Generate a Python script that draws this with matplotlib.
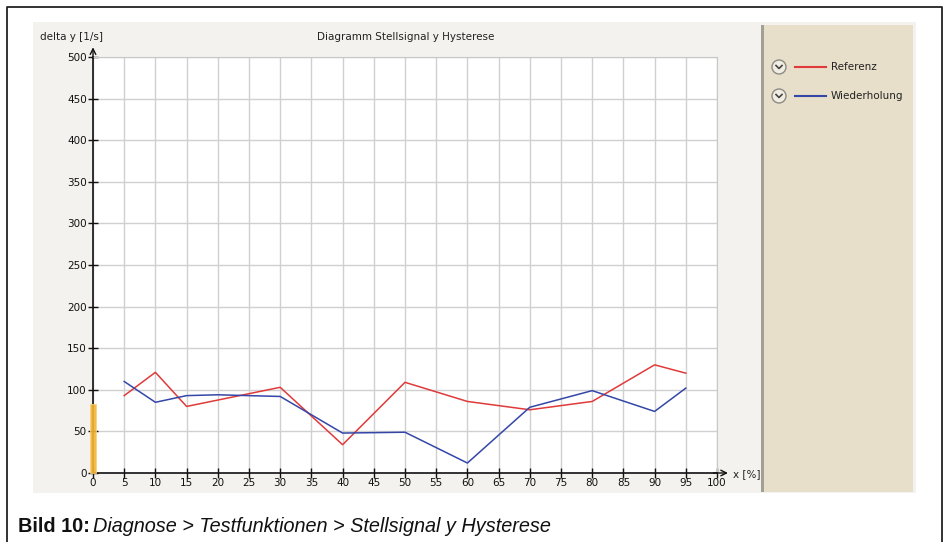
import matplotlib.pyplot as plt
from matplotlib.patches import Rectangle, Circle
from matplotlib.lines import Line2D

# Messwerte Stellsignal y Hysterese
x_ref = [5, 10, 15, 30, 40, 50, 60, 70, 80, 90, 95]
y_ref = [93, 121, 80, 103, 34, 109, 86, 76, 86, 130, 120]
x_wdh = [5, 10, 15, 20, 25, 30, 40, 50, 60, 70, 80, 90, 95]
y_wdh = [110, 85, 93, 94, 93, 92, 48, 49, 12, 79, 99, 74, 102]
bar_x = [0]
bar_y = [83]
series_names = ['Referenz', 'Wiederholung']
series_colors = ['#e03a3a', '#3447a8']

W, H = 944, 542
fig = plt.figure(figsize=(W / 100, H / 100), dpi=100)
fig.patch.set_facecolor('white')


def px(x, y):
    # Pixel (von oben links) -> Figure-Koordinaten
    return x / W, 1 - y / H


def rect(x0, y0, x1, y1, **kw):
    fx, fy = px(x0, y1)
    r = Rectangle((fx, fy), (x1 - x0) / W, (y1 - y0) / H,
                  transform=fig.transFigure, **kw)
    fig.add_artist(r)
    return r


# Rahmen oben/links/rechts
fig.add_artist(Line2D([7 / W, 7 / W, 942 / W, 942 / W],
                      [0, 1 - 7 / H, 1 - 7 / H, 0],
                      transform=fig.transFigure, color='#222222', lw=1.3))

# Hintergrund des Programmfensters
rect(33, 22, 916, 493, facecolor='#f3f2ee', edgecolor='none', zorder=0)
rect(764, 25, 913, 492, facecolor='#e7dfca', edgecolor='none', zorder=0.5)
rect(761, 25, 764, 492, facecolor='#a29f96', edgecolor='none', zorder=0.6)

# Diagramm
l, t = px(93, 57)
r_, b = px(717, 473)
ax = fig.add_axes([l, b, r_ - l, t - b])
ax.set_facecolor('white')
ax.set_xlim(0, 100)
ax.set_ylim(0, 500)
ax.set_xticks(range(0, 101, 5))
ax.set_yticks(range(0, 501, 50))
ax.grid(True, color='#d0d0d0', lw=1)
ax.set_axisbelow(True)
for s in ['top', 'right']:
    ax.spines[s].set_color('#c8c8c8')
for s in ['left', 'bottom']:
    ax.spines[s].set_color('#111111')
    ax.spines[s].set_linewidth(1.2)
ax.tick_params(direction='inout', length=7, width=1, labelsize=7.5,
               colors='#111111', pad=1)
ax.tick_params(axis='x', pad=0)

# Balken bei 0 % liegt über der Achse
ax.bar(bar_x, bar_y, width=0.85, color='#f6b535', edgecolor='#fad27a',
       lw=0.6, alpha=0.9, clip_on=False, zorder=4)
ax.plot(x_ref, y_ref, color=series_colors[0], lw=1.1, zorder=3)
ax.plot(x_wdh, y_wdh, color=series_colors[1], lw=1.1, zorder=3)

# Pfeile an den Achsen
ax.annotate('', xy=(0, 1.03), xytext=(0, 0.99), xycoords='axes fraction',
            arrowprops=dict(arrowstyle='->', color='#111111', lw=1,
                            mutation_scale=10))
ax.annotate('', xy=(1.022, 0), xytext=(0.99, 0), xycoords='axes fraction',
            arrowprops=dict(arrowstyle='->', color='#111111', lw=1,
                            mutation_scale=10))

fig.text(*px(733, 474), 'x [%]', fontsize=7.5, color='#222222',
         va='center', ha='left')
fig.text(*px(40, 37), 'delta y [1/s]', fontsize=7.5, color='#222222',
         va='center', ha='left')
fig.text(*px(406, 37), 'Diagramm Stellsignal y Hysterese', fontsize=7.5,
         color='#222222', va='center', ha='center')

# Legende
for i, (name, col) in enumerate(zip(series_names, series_colors)):
    yy = 67 + i * 29
    cx, cy = px(779, yy)
    fig.add_artist(Circle((cx * W, cy * H), 7, transform=None,
                          facecolor='#f1ede2', edgecolor='#8c8a84', lw=1))
    fig.add_artist(Line2D([776 / W, 779 / W, 782 / W],
                          [1 - (yy - 1.5) / H, 1 - (yy + 1.5) / H, 1 - (yy - 1.5) / H],
                          transform=fig.transFigure, color='#444444', lw=1.2))
    fig.add_artist(Line2D([795 / W, 826 / W], [1 - yy / H, 1 - yy / H],
                          transform=fig.transFigure, color=col, lw=1.5))
    fig.text(*px(831, yy), name, fontsize=7.5, color='#222222',
             va='center', ha='left')

# Bildunterschrift
cap_font = ['Liberation Sans', 'DejaVu Sans']
t1 = fig.text(*px(18, 527), 'Bild 10:', fontsize=14.3, fontweight='bold',
              family=cap_font, va='center', ha='left', color='#111111')
fig.canvas.draw()
bb = t1.get_window_extent(fig.canvas.get_renderer())
fig.text((bb.x1 + 3) / W, 1 - 527 / H,
         'Diagnose > Testfunktionen > Stellsignal y Hysterese',
         fontsize=14.3, style='italic', family=cap_font, va='center',
         ha='left', color='#111111')

fig.savefig('out.png', dpi=100)
